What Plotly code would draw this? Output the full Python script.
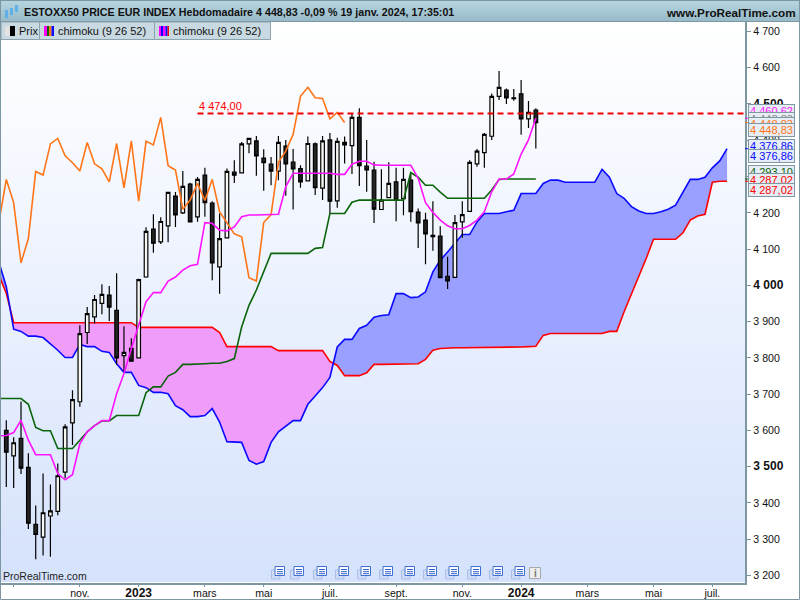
import plotly.graph_objects as go

# weekly index, 72 = week of 19 janv. 2024, cloud runs 26 weeks further
weeks = list(range(-1, 99))
candle_weeks = weeks[1:74]

opens = [3600, 3530, 3578, 3498, 3341, 3306, 3364, 3377, 3485, 3621, 3679, 3870, 3913, 3950, 3973, 3931, 3806, 3826, 3800, 4023,
         4155, 4120, 4164, 4246, 4200, 4279, 4189, 4304, 4227, 4051, 4131, 4312, 4310, 4390, 4398, 4351, 4334, 4315, 4384, 4340,
         4322, 4288, 4390, 4268, 4401, 4233, 4394, 4385, 4463, 4329, 4318, 4209, 4242, 4285, 4239, 4290, 4202, 4180, 4138, 4136,
         4025, 4022, 4175, 4204, 4335, 4366, 4411, 4521, 4538, 4517, 4528, 4459, 4483]
highs = [3628, 3581, 3680, 3537, 3393, 3481, 3451, 3509, 3617, 3711, 3890, 3940, 3973, 4003, 3998, 4033, 3887, 3854, 4018, 4160,
         4196, 4188, 4257, 4257, 4315, 4283, 4299, 4324, 4232, 4198, 4322, 4345, 4395, 4405, 4412, 4375, 4354, 4412, 4401, 4376,
         4331, 4410, 4394, 4412, 4420, 4407, 4410, 4475, 4488, 4401, 4341, 4320, 4339, 4324, 4324, 4310, 4212, 4200, 4232, 4163,
         4079, 4194, 4232, 4345, 4376, 4420, 4529, 4591, 4543, 4541, 4566, 4508, 4488]
lows = [3444, 3441, 3480, 3328, 3245, 3255, 3252, 3366, 3468, 3560, 3665, 3838, 3895, 3920, 3902, 3782, 3763, 3789, 3798, 4021,
        4090, 4114, 4119, 4161, 4197, 4174, 4175, 4189, 4014, 3977, 4130, 4282, 4309, 4364, 4302, 4261, 4276, 4290, 4247, 4209,
        4269, 4287, 4249, 4235, 4199, 4214, 4336, 4307, 4274, 4258, 4172, 4208, 4240, 4177, 4193, 4175, 4103, 4058, 4095, 4020,
        3990, 4021, 4131, 4203, 4327, 4324, 4401, 4511, 4500, 4509, 4415, 4434, 4377]
closes = [3540, 3566, 3496, 3344, 3313, 3373, 3378, 3475, 3610, 3685, 3867, 3922, 3961, 3975, 3940, 3800, 3815, 3791, 4016, 4149,
          4116, 4176, 4256, 4194, 4273, 4175, 4292, 4228, 4062, 4129, 4314, 4304, 4390, 4405, 4357, 4338, 4315, 4394, 4335, 4321,
          4285, 4391, 4269, 4398, 4232, 4397, 4387, 4463, 4330, 4318, 4210, 4235, 4281, 4234, 4292, 4203, 4172, 4142, 4134, 4021,
          4012, 4173, 4195, 4339, 4370, 4416, 4521, 4546, 4517, 4515, 4459, 4477, 4448.83]

tenkan = [3585, 3586, 3594, 3628, 3573, 3533, 3533, 3533, 3481, 3464, 3478, 3563, 3596, 3613, 3627, 3627, 3701, 3757, 3826, 3890,
          3955, 3980, 3980, 4012, 4023, 4042, 4054, 4058, 4173, 4171, 4152, 4150, 4161, 4189, 4194, 4194, 4194, 4194, 4196, 4272,
          4309, 4309, 4309, 4309, 4309, 4309, 4306, 4306, 4334, 4342, 4342, 4332, 4331, 4331, 4331, 4331, 4331, 4295, 4228, 4201,
          4180, 4164, 4156, 4156, 4165, 4180, 4203, 4258, 4293, 4293, 4307, 4362, 4401, 4460.62]
kijun = [3688, 3688, 3688, 3688, 3672, 3608, 3599, 3599, 3550, 3550, 3550, 3573, 3596, 3613, 3626, 3626, 3641, 3641, 3641, 3641,
         3704, 3720, 3720, 3750, 3760, 3782, 3782, 3784, 3784, 3785, 3785, 3790, 3798, 3885, 3945, 3987, 4037, 4088, 4088, 4088,
         4088, 4088, 4088, 4102, 4104, 4198, 4198, 4198, 4229, 4235, 4235, 4235, 4235, 4235, 4235, 4235, 4311, 4298, 4276, 4276,
         4257, 4240, 4240, 4240, 4240, 4240, 4240, 4263, 4292, 4293.1, 4293.1, 4293.1, 4293.1, 4293.1]
chikou = [4175, 4292, 4228, 4062, 4129, 4314, 4304, 4390, 4405, 4357, 4338, 4315, 4394, 4335, 4321, 4285, 4391, 4269, 4398, 4232,
          4397, 4387, 4463, 4330, 4318, 4210, 4235, 4281, 4234, 4292, 4203, 4172, 4142, 4134, 4021, 4012, 4173, 4195, 4339, 4370,
          4416, 4521, 4546, 4517, 4515, 4459, 4477, 4448.83]
span_blue = [4064, 3996, 3879, 3873, 3860, 3860, 3856, 3839, 3821, 3801, 3801, 3837, 3831, 3831, 3818, 3815, 3784, 3760, 3760, 3724,
             3718, 3705, 3705, 3701, 3668, 3657, 3638, 3638, 3641, 3660, 3623, 3569, 3567, 3567, 3517, 3507, 3514, 3567, 3596, 3611,
             3627, 3627, 3672, 3695, 3718, 3746, 3830, 3851, 3851, 3881, 3890, 3912, 3917, 3919, 3977, 3977, 3966, 3968, 3982, 4037,
             4069, 4092, 4115, 4140, 4140, 4175, 4198, 4198, 4198, 4203, 4207, 4253, 4253, 4253, 4281, 4290, 4290, 4284, 4284, 4284,
             4284, 4284, 4320, 4298, 4253, 4240, 4217, 4205, 4198, 4198, 4203, 4210, 4221, 4258, 4292, 4292, 4298, 4324, 4343, 4376.86]
span_red = [4028, 3978, 3897, 3897, 3897, 3897, 3897, 3897, 3897, 3897, 3897, 3897, 3897, 3897, 3897, 3897, 3897, 3897, 3897, 3884,
            3884, 3884, 3884, 3884, 3884, 3884, 3884, 3884, 3884, 3884, 3870, 3831, 3831, 3831, 3831, 3831, 3831, 3831, 3820, 3820,
            3820, 3820, 3820, 3820, 3820, 3790, 3779, 3751, 3751, 3751, 3759, 3782, 3782, 3782, 3783, 3783, 3784, 3784, 3796, 3821,
            3826, 3828, 3828, 3828, 3828, 3828, 3828, 3828, 3828, 3828, 3828, 3830, 3831, 3832, 3862, 3867, 3867, 3867, 3867, 3867,
            3867, 3867, 3867, 3873, 3873, 3927, 3976, 4023, 4074, 4127, 4127, 4127, 4127, 4145, 4180, 4191, 4196, 4284, 4287.02, 4287.02]

level_value = 4474.0
level_weeks = [26, 100.4]
price_ticks = [3200, 3300, 3400, 3500, 3600, 3700, 3800, 3900, 4000, 4100, 4200, 4300, 4400, 4500, 4600, 4700]
BIG = '<span style="font-size:12px"><b>%s</b></span>'
price_labels = ['3 200', '3 300', '3 400', BIG % '3 500', '3 600', '3 700', '3 800', '3 900', BIG % '4 000', '4 100', '4 200',
                '4 300', '4 400', BIG % '4 500', '4 600', '4 700']
date_ticks = [1, 10, 18, 27, 35, 44, 53, 62, 70, 79, 88, 96]
date_labels = ['', 'nov.', BIG % '2023', 'mars', 'mai', 'juil.', 'sept.', 'nov.', BIG % '2024', 'mars', 'mai', 'juil.']

title_text = 'ESTOXX50 PRICE EUR INDEX Hebdomadaire 4 448,83 -0,09 % 19 janv. 2024, 17:35:01'
FONT = 'Liberation Sans'
FRAME = '#7c96a2'


def fx(x):
    return x / 800


def fy(y):
    return 1 - y / 600


def rect(x0, y0, x1, y1, fill, line=None, layer='above'):
    return dict(type='rect', xref='paper', yref='paper', x0=fx(x0), x1=fx(x1), y0=fy(y0), y1=fy(y1), layer=layer,
                fillcolor=fill, line=dict(color=line, width=1) if line else dict(width=0))


def mix(c0, c1, t):
    return 'rgb(%d,%d,%d)' % tuple(round(a + (b - a) * t) for a, b in zip(c0, c1))


def label(x, y, text, color='#111', size=11, anchor='left', **kw):
    return dict(xref='paper', yref='paper', x=fx(x), y=fy(y), text=text, showarrow=False, xanchor=anchor, yanchor='middle',
                font=dict(family=FONT, size=size, color=color), **kw)


# split the cloud where the two spans cross, each piece gets its own fill
pieces = []
cur = [(weeks[0], span_blue[0], span_red[0])]
for k in range(1, len(weeks)):
    d0 = span_blue[k - 1] - span_red[k - 1]
    d1 = span_blue[k] - span_red[k]
    if d0 * d1 < 0:
        t = d0 / (d0 - d1)
        cross = span_blue[k - 1] + (span_blue[k] - span_blue[k - 1]) * t
        cur.append((weeks[k - 1] + t, cross, cross))
        pieces.append(cur)
        cur = [(weeks[k - 1] + t, cross, cross)]
    cur.append((weeks[k], span_blue[k], span_red[k]))
pieces.append(cur)

fig = go.Figure()

for p in pieces:
    xs = [q[0] for q in p]
    up = [q[1] for q in p]
    dn = [q[2] for q in p]
    blue_on_top = sum(up) >= sum(dn)
    fig.add_trace(go.Scatter(x=xs + xs[::-1], y=up + dn[::-1], mode='lines', fill='toself', line=dict(width=0),
                             fillcolor='#9aa0ff' if blue_on_top else '#f09cfb', hoverinfo='skip'))

fig.add_trace(go.Scatter(x=weeks, y=span_red, mode='lines', line=dict(color='#ff0000', width=1.6)))
fig.add_trace(go.Scatter(x=weeks, y=span_blue, mode='lines', line=dict(color='#0a0aff', width=1.6)))

# candles and the other lines sit on an overlaid axis so they stay above the cloud
fig.add_trace(go.Candlestick(x=candle_weeks, open=opens, high=highs, low=lows, close=closes, yaxis='y2', whiskerwidth=0,
                             increasing=dict(fillcolor='#f6f6f2', line=dict(color='#000000', width=1.2)),
                             decreasing=dict(fillcolor='#242424', line=dict(color='#000000', width=1.2))))
fig.add_trace(go.Scatter(x=weeks[:48], y=chikou, mode='lines', yaxis='y2', line=dict(color='#ff7518', width=1.6)))
fig.add_trace(go.Scatter(x=weeks[:74], y=kijun, mode='lines', yaxis='y2', line=dict(color='#0a640a', width=1.6)))
fig.add_trace(go.Scatter(x=weeks[:74], y=tenkan, mode='lines', yaxis='y2', line=dict(color='#ff14ff', width=1.6)))
fig.add_trace(go.Scatter(x=level_weeks, y=[level_value, level_value], mode='lines', yaxis='y2',
                         line=dict(color='#ee0000', width=2, dash='6px,4px')))

shapes = []
annotations = []

# plot background gradient
for y in range(22, 582, 8):
    shapes.append(rect(1, y, 745, y + 8, mix((255, 255, 255), (213, 226, 252), (y - 22) / 560), layer='below'))

# title bar
for y in range(0, 22, 2):
    shapes.append(rect(0, y, 800, y + 2, mix((180, 212, 224), (150, 184, 198), y / 22)))
shapes.append(rect(0, 0.5, 800, 21.5, None, FRAME))
annotations.append(label(21.5, 12, '<b>' + title_text + '</b>', size=10.7))
annotations.append(label(798, 12, '<b>www.ProRealTime.com</b>', size=11.7, anchor='right'))
# candle glyph in the title bar
for x0, y0, y1 in [(5, 10, 18), (10, 8, 15), (15, 5, 12)]:
    shapes.append(rect(x0, y0, x0 + 3, y1, '#5db0e8'))

# indicator tabs
for x0, x1 in [(1, 39.5), (39.5, 154.5), (154.5, 270.5)]:
    shapes.append(rect(x0, 22, x1, 39.5, '#c9d9e1', '#8ba4b0'))
annotations.append(label(16.5, 31, 'Prix', size=11))
annotations.append(label(56, 31, 'chimoku (9 26 52)', size=11))
annotations.append(label(171, 31, 'chimoku (9 26 52)', size=11))
for x0, x1, c in [(5, 10, '#e2e2e2'), (10, 15, '#000000')]:
    shapes.append(rect(x0, 26, x1, 36, c))
for x0, x1, c in [(44, 47, '#ff00ff'), (47, 49, '#0a640a'), (49, 51.5, '#ff7518'), (51.5, 54, '#0a0aff')]:
    shapes.append(rect(x0, 26, x1, 36, c))
for x0, x1, c in [(159, 161, '#ff00ff'), (161, 163, '#0a0aff'), (163, 165.5, '#ff00ff'), (165.5, 167.5, '#0a0aff'), (167.5, 169, '#ff0000')]:
    shapes.append(rect(x0, 26, x1, 36, c))

# page icons along the bottom
for x in [278, 297, 320, 342, 364, 386, 408, 430, 452, 474, 496, 518]:
    shapes.append(rect(x - 6.5, 570, x + 2, 579, '#cfdcf6', '#a9bfea'))
    shapes.append(rect(x - 3, 566.5, x + 6.5, 575.5, '#ffffff', '#3f6fd0'))
    shapes.append(rect(x - 1, 569, x + 5, 570, '#2f5fc8'))
    shapes.append(rect(x - 1, 571.2, x + 5, 572.2, '#2f5fc8'))
    shapes.append(rect(x - 1, 573.2, x + 5, 574.2, '#2f5fc8'))
shapes.append(rect(529.5, 567.5, 540.5, 578.5, '#eeeeee', '#a8a8a8'))
annotations.append(label(535, 573, '<b>i</b>', color='#777777', size=10, anchor='center'))

annotations.append(label(0.5, 576, 'ProRealTime.com', color='#222222', size=10.5))
annotations.append(label(196.5, 106, '4 474,00', color='#ff0000', size=11))

# little coloured marks between axis and value boxes
for y_val, c in [(4460.62, '#ff14ff'), (4448.83, '#ff7518'), (4376.86, '#0a0aff'), (4293.1, '#0a640a'), (4287.02, '#ff0000')]:
    shapes.append(dict(type='line', xref='paper', yref='y', x0=fx(745), x1=fx(749), y0=y_val, y1=y_val,
                       line=dict(color=c, width=1)))

# value boxes, later ones cover the earlier ones
for y, text, c in [(111.4, '4 460,62', '#ff14ff'), (119, '4 448,83', '#888888'), (124, '4 448,83', '#ff7518'),
                   (130, '4 448,83', '#ff7518'), (146, '4 376,86', '#0a0aff'), (156, '4 376,86', '#0a0aff'),
                   (172.4, '4 293,10', '#0a640a'), (180, '4 287,02', '#ff0000'), (190, '4 287,02', '#ff0000')]:
    annotations.append(label(771.7, y, text, color=c, size=11, anchor='center', width=45, height=12, borderpad=0,
                             borderwidth=1, bordercolor='#7f98a3', bgcolor='#e6edf5', align='center'))

# outer frame
shapes.append(rect(0.5, 0.5, 799.5, 599.5, None, FRAME))

y_range = [3180.7, 4726]

fig.update_layout(
    width=800, height=600, showlegend=False, margin=dict(l=0, r=0, t=0, b=0, autoexpand=False),
    paper_bgcolor='#ffffff', plot_bgcolor='#ffffff',
    font=dict(family=FONT, size=10.6, color='#111111'),
    shapes=shapes, annotations=annotations,
    xaxis=dict(domain=[fx(1), fx(744.5)], range=[-0.72, 100.37], rangeslider=dict(visible=False),
               tickmode='array', tickvals=date_ticks, ticktext=date_labels, ticks='outside', ticklen=3,
               ticklabelstandoff=-3, tickcolor=FRAME, showgrid=False, zeroline=False, showline=True,
               linecolor=FRAME, linewidth=1.5),
    yaxis=dict(domain=[fy(582.5), fy(22)], range=y_range, side='right', tickmode='array', tickvals=price_ticks,
               ticktext=price_labels, ticks='outside', ticklen=5, tickcolor=FRAME, showgrid=False, zeroline=False,
               showline=True, linecolor=FRAME, linewidth=1.5),
    yaxis2=dict(domain=[fy(582.5), fy(22)], range=y_range, overlaying='y', visible=False),
)

fig.write_html("out.html", config=dict(displayModeBar=False),
               post_script="document.body.style.margin='0';document.body.style.overflow='hidden';")
